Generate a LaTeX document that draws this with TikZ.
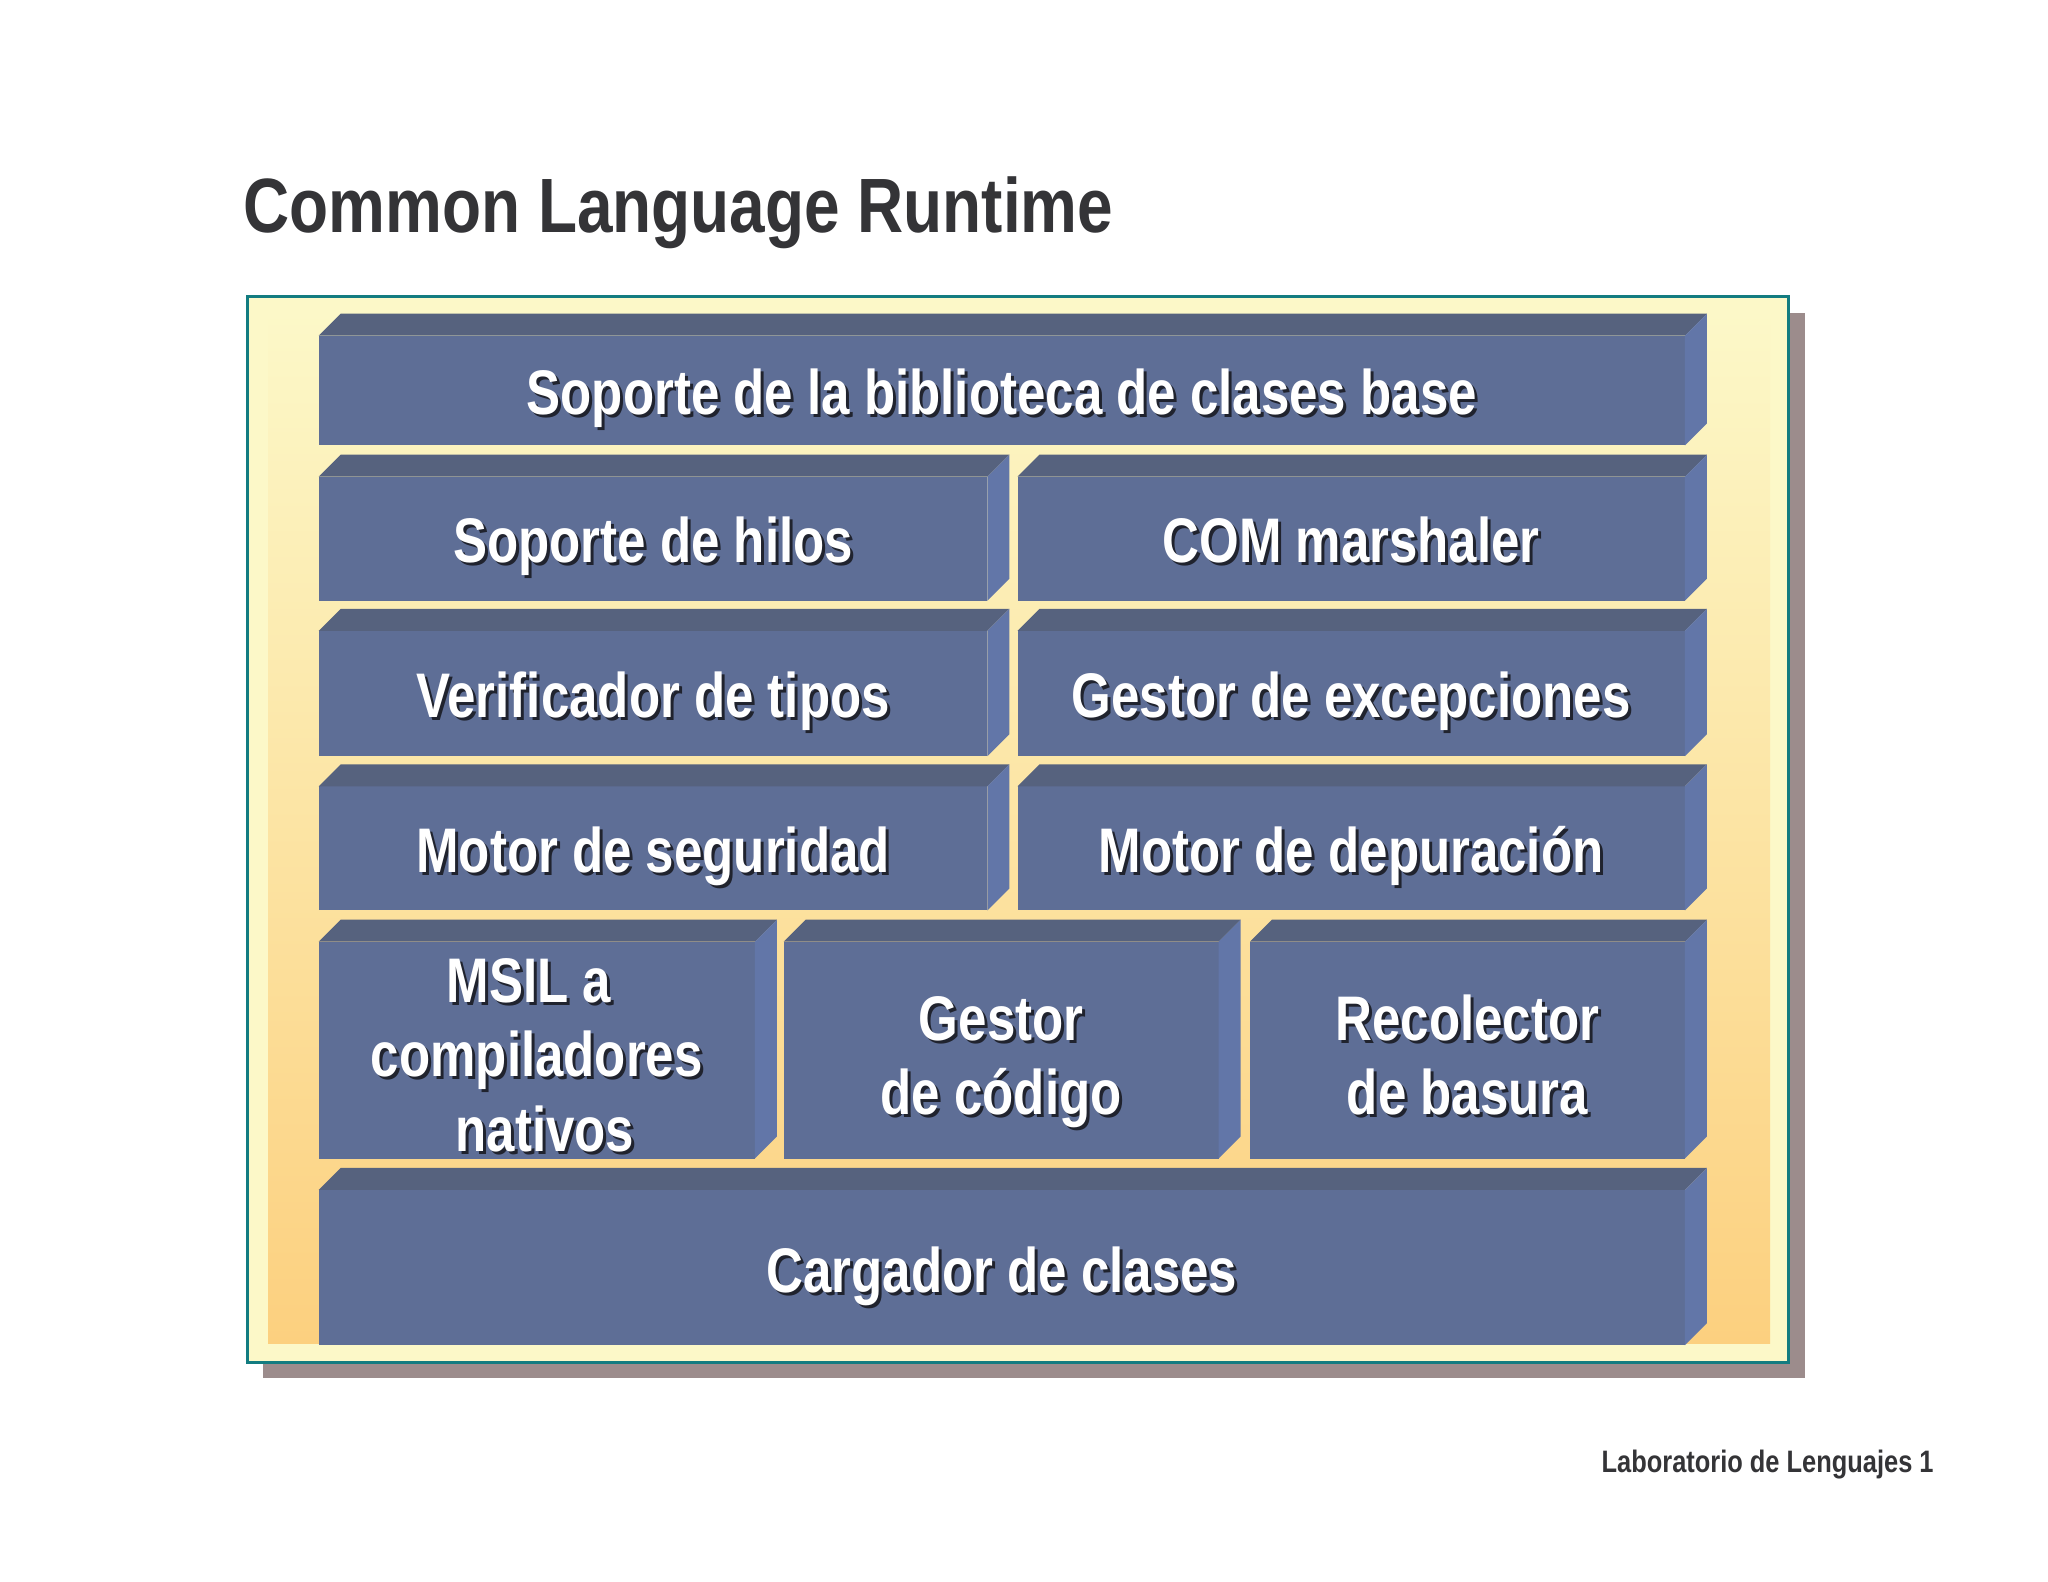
\documentclass[tikz,border=0pt]{standalone}
\usepackage{fontspec}
\usetikzlibrary{fit}
\newfontfamily\cfont[FakeStretch=0.82]{Liberation Sans Bold}
\newfontfamily\bxfont[FakeStretch=0.81]{Liberation Sans Bold}
\newfontfamily\ttlfont[FakeStretch=0.83]{Liberation Sans Bold}
\definecolor{frontc}{HTML}{5E6E96}
\definecolor{topc}{HTML}{56627E}
\definecolor{sidec}{HTML}{6276A8}
\definecolor{paley}{HTML}{FCF8C8}
\definecolor{orangey}{HTML}{FCD07F}
\definecolor{framec}{HTML}{137C80}
\definecolor{shadowc}{HTML}{9C8C8C}
\definecolor{titlec}{HTML}{343437}
\definecolor{tshadow}{HTML}{20232E}
\tikzset{
  face/.style={fill=frontc, inner sep=0pt, outer sep=0pt},
  topface/.style={fill=topc},
  sideface/.style={fill=sidec},
  btext/.style={font=\bxfont\fontsize{31.5}{37}\selectfont, text=white, anchor=base, inner sep=0pt},
  bshadow/.style={btext, text=tshadow},
}
\newcommand\layer[5]{%
  \coordinate (#1-a) at (#2,#3);
  \coordinate (#1-b) at (#4,#5);
  \node[face, fit=(#1-a)(#1-b)] (#1) {};
  \fill[topface] (#1.north west) -- ++(22,-22) -- ([shift={(22,-22)}]#1.north east) -- (#1.north east) -- cycle;
  \fill[sideface] (#1.north east) -- ++(22,-22) -- ([shift={(22,-22)}]#1.south east) -- (#1.south east) -- cycle;
}
\newcommand\ltext[4]{%
  \coordinate (#1-p) at ([shift={(#3)}]#2.center);
  \node[bshadow] (#1-s) at ([shift={(3,3)}]#1-p) {#4};
  \node[btext] (#1) at (#1-p) {#4};
}
\begin{document}
\begin{tikzpicture}[x=0.5pt,y=-0.5pt]
\useasboundingbox (0,0) rectangle (2048,1582);
\fill[white] (0,0) rectangle (2048,1582);
% title and footer
\node[font=\ttlfont\fontsize{38.5}{46}\selectfont, text=titlec, anchor=base west, inner sep=0pt] (title) at (243,233) {Common Language Runtime};
\node[font=\cfont\fontsize{15.5}{18}\selectfont, text=titlec, anchor=base east, inner sep=0pt] (footer) at (1934,1472) {Laboratorio de Lenguajes 1};
% frame
\fill[shadowc] (263,313) rectangle (1805,1378);
\fill[paley] (247,297) rectangle (1788,1362);
\shade[top color=paley, bottom color=orangey] (268,312) rectangle (1770,1343);
\draw[framec, line width=1.5pt] (247,297) rectangle (1788,1362);
% layers
\layer{base}{318.7}{335.7}{1684.9}{445.4}
\ltext{tbase}{base}{0,24}{Soporte de la biblioteca de clases base}
\layer{hilos}{318.7}{476.7}{987.4}{600.8}
\ltext{thilos}{hilos}{0,24}{Soporte de hilos}
\layer{com}{1017.5}{476.7}{1684.9}{600.8}
\ltext{tcom}{com}{0,24}{COM marshaler}
\layer{verif}{318.7}{630.8}{987.4}{756.2}
\ltext{tverif}{verif}{0,24}{Verificador de tipos}
\layer{excep}{1017.5}{630.8}{1684.9}{756.2}
\ltext{texcep}{excep}{0,24}{Gestor de excepciones}
\layer{segur}{318.7}{786.3}{987.4}{910.4}
\ltext{tsegur}{segur}{0,24}{Motor de seguridad}
\layer{depur}{1017.5}{786.3}{1684.9}{910.4}
\ltext{tdepur}{depur}{0,24}{Motor de depuración}
\layer{msil}{318.7}{941.7}{754.9}{1158.5}
\ltext{tmsila}{msil}{-8,-48}{MSIL a}
\ltext{tmsilb}{msil}{0,26.5}{compiladores}
\ltext{tmsilc}{msil}{8,101}{nativos}
\layer{codigo}{783.7}{941.7}{1218.6}{1158.5}
\ltext{tcoda}{codigo}{0,-10}{Gestor}
\ltext{tcodb}{codigo}{0,64.5}{de código}
\layer{recol}{1250}{941.7}{1684.9}{1158.5}
\ltext{trecola}{recol}{0,-10}{Recolector}
\ltext{trecolb}{recol}{0,64.5}{de basura}
\layer{carga}{318.7}{1189.9}{1684.9}{1345.3}
\ltext{tcarga}{carga}{0,25}{Cargador de clases}
\end{tikzpicture}
\end{document}
